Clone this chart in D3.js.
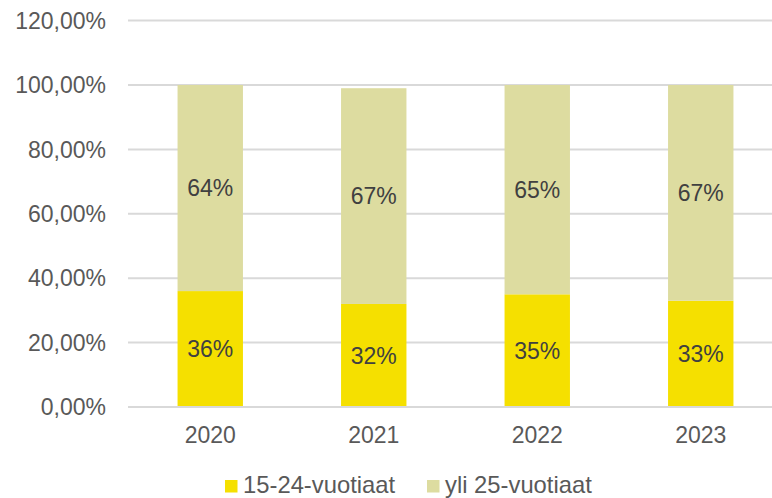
<!DOCTYPE html>
<html>
<head>
<meta charset="utf-8">
<script src="https://cdn.jsdelivr.net/npm/d3@7"></script>
<style>
html,body{margin:0;padding:0;background:#fff;}
svg{display:block;font-family:"Liberation Sans",Arial,sans-serif;}
</style>
</head>
<body>
<svg id="chart" width="772" height="498"></svg>
<script>
const categories = ["2020", "2021", "2022", "2023"];
const seriesNames = ["15-24-vuotiaat", "yli 25-vuotiaat"];
const young = [36, 32, 35, 33];
const older = [64, 67, 65, 67];
const yTicks = [0, 20, 40, 60, 80, 100, 120];
const colors = ["#f5e000", "#dddca0"];

const svg = d3.select("#chart");
const x = d3.scaleBand().domain(categories).range([128.5, 782.5]).paddingInner(0.6).paddingOuter(0.3);
const y = d3.scaleLinear().domain([0, 120]).range([407, 20.6]);

// gridlines
svg.append("g").selectAll("line").data(yTicks).join("line")
  .attr("x1", 128).attr("x2", 772)
  .attr("y1", d => y(d)).attr("y2", d => y(d))
  .attr("stroke", "#d9d9d9").attr("stroke-width", 2);

// y labels
const fmt = d => d.toFixed(2).replace(".", ",") + "%";
svg.append("g").selectAll("text").data(yTicks).join("text")
  .attr("x", 106).attr("y", d => y(d))
  .attr("dy", "0.36em")
  .attr("text-anchor", "end")
  .attr("fill", "#595959").attr("font-size", 23)
  .text(fmt);

// stacked data
const rows = categories.map((c, i) => ({cat: c, a: young[i], b: older[i]}));
const stack = d3.stack().keys(["a", "b"])(rows);

const bw = x.bandwidth();
stack.forEach((layer, li) => {
  const g = svg.append("g");
  g.selectAll("rect").data(layer).join("rect")
    .attr("x", d => x(d.data.cat))
    .attr("width", bw)
    .attr("y", d => y(d[1]))
    .attr("height", d => y(d[0]) - y(d[1]))
    .attr("fill", colors[li]);
  g.selectAll("text").data(layer).join("text")
    .attr("x", d => x(d.data.cat) + bw / 2)
    .attr("y", d => (y(d[0]) + y(d[1])) / 2)
    .attr("dy", "0.36em")
    .attr("text-anchor", "middle")
    .attr("fill", "#404040").attr("font-size", 23)
    .text(d => (d[1] - d[0]) + "%");
});

// x axis line
svg.append("line").attr("x1", 128).attr("x2", 772).attr("y1", y(0)).attr("y2", y(0))
  .attr("stroke", "#d9d9d9").attr("stroke-width", 2);

// x labels
svg.append("g").selectAll("text").data(categories).join("text")
  .attr("x", d => x(d) + bw / 2).attr("y", 443)
  .attr("text-anchor", "middle")
  .attr("fill", "#595959").attr("font-size", 23)
  .text(d => d);

// legend
const legendX = [225, 427];
const lg = svg.append("g");
seriesNames.forEach((n, i) => {
  lg.append("rect").attr("x", legendX[i]).attr("y", 480).attr("width", 12.5).attr("height", 12.5).attr("fill", colors[i]);
  lg.append("text").attr("x", legendX[i] + 18).attr("y", 492.5)
    .attr("fill", "#595959").attr("font-size", 23.8).text(n);
});
</script>
</body>
</html>
